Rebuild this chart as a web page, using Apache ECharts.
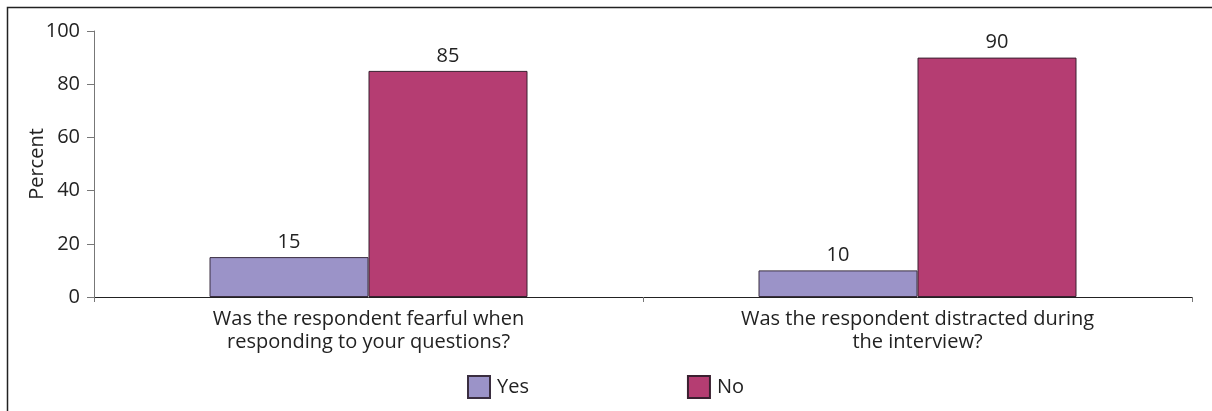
<!DOCTYPE html>
<html lang="en">
<head>
    <meta charset="UTF-8">
    <title>chart</title>
    <script src="https://cdn.jsdelivr.net/npm/echarts@6/dist/echarts.min.js"></script>
    <style>
        html, body { margin: 0; padding: 0; background: #fff; }
        #chart { width: 1212px; height: 411px; }
    </style>
</head>
<body>
<div id="chart"></div>
<script type="text/javascript">
    // data
    var categories = [
        'Was the respondent fearful when\nresponding to your questions?',
        'Was the respondent distracted during\nthe interview?'
    ];
    var yesValues = [15, 10];
    var noValues = [85, 90];
    var seriesNames = ['Yes', 'No'];

    var fontFamily = '"Open Sans", sans-serif';
    var fs = 20;
    var myChart = echarts.init(document.getElementById('chart'));

    var option = {
        backgroundColor: '#fff',
        animation: false,
        graphic: [{
            type: 'rect',
            shape: { x: 7.5, y: 7.5, width: 1210, height: 410 },
            style: { fill: 'none', stroke: '#222', lineWidth: 1.5 },
            silent: true
        }],
        grid: {
            left: 94,
            right: 20,
            top: 31,
            bottom: 114
        },
        legend: {
            left: 462,
            top: 370,
            icon: 'rect',
            itemWidth: 22,
            itemHeight: 22,
            itemGap: 158,
            data: seriesNames,
            textStyle: { fontFamily: fontFamily, fontSize: fs, color: '#222', padding: [0, 0, 0, 2] }
        },
        xAxis: {
            type: 'category',
            data: categories,
            axisLine: { lineStyle: { color: '#222', width: 1 } },
            axisTick: { show: true, length: 5, lineStyle: { color: '#777' } },
            axisLabel: {
                fontFamily: fontFamily,
                fontSize: fs,
                lineHeight: 23,
                color: '#222',
                margin: 11,
                interval: 0
            }
        },
        yAxis: {
            type: 'value',
            min: 0,
            max: 100,
            interval: 20,
            name: 'Percent',
            nameLocation: 'middle',
            nameGap: 47,
            nameMoveOverlap: false,
            nameTextStyle: { fontFamily: fontFamily, fontSize: fs, color: '#222' },
            axisLine: { show: true, lineStyle: { color: '#777' } },
            axisTick: { show: true, length: 7, lineStyle: { color: '#777' } },
            axisLabel: { fontFamily: fontFamily, fontSize: fs, color: '#222', margin: 14 },
            splitLine: { show: false }
        },
        series: [
            {
                name: seriesNames[0],
                type: 'bar',
                data: yesValues,
                barWidth: 159,
                barGap: '0%',
                itemStyle: { color: '#9b93c8', borderColor: '#3a2e40', borderWidth: 1 },
                label: {
                    show: true, position: 'top', distance: 5,
                    fontFamily: fontFamily, fontSize: fs, color: '#222'
                }
            },
            {
                name: seriesNames[1],
                type: 'bar',
                data: noValues,
                barWidth: 159,
                barGap: '0%',
                itemStyle: { color: '#b53d72', borderColor: '#3a2030', borderWidth: 1 },
                label: {
                    show: true, position: 'top', distance: 5,
                    fontFamily: fontFamily, fontSize: fs, color: '#222'
                }
            }
        ]
    };

    myChart.setOption(option);
</script>
</body>
</html>
